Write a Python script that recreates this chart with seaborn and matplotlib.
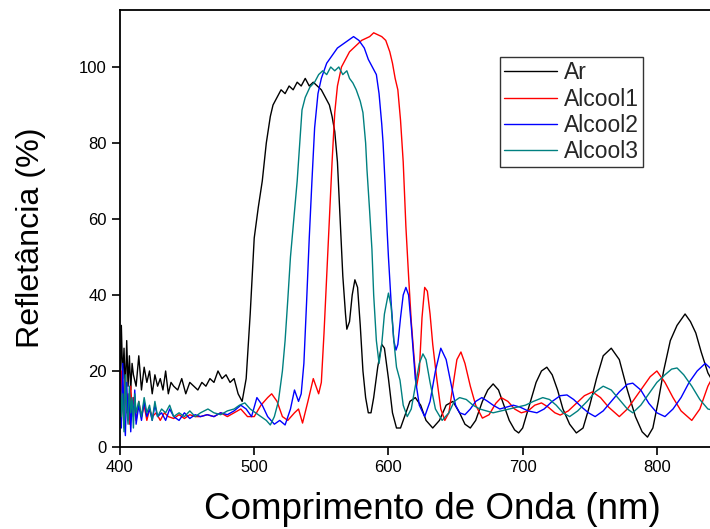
import numpy as np
import pandas as pd
import matplotlib
matplotlib.use("Agg")
import matplotlib.pyplot as plt
import seaborn as sns

# Reflectance spectra (wavelength in nm, reflectance in %)
ar_wl = [400, 401, 402, 403, 404, 405, 406, 407, 408, 409, 410, 412, 414, 416, 418, 420, 422, 424, 426, 428,
         430, 432, 434, 436, 438, 440, 443, 446, 449, 452, 455, 458, 461, 464, 467, 470, 473, 476, 479, 482,
         485, 488, 491, 494, 497, 500, 503, 506, 509, 512, 514, 517, 520, 523, 526, 529, 532, 535, 538, 541,
         544, 547, 550, 553, 556, 558, 560, 562, 564, 566, 568, 569, 571, 573, 575, 577, 579, 581, 583, 585,
         587, 589, 592, 595, 597, 600, 603, 606, 609, 612, 616, 620, 624, 628, 633, 638, 643, 648, 653, 657,
         661, 665, 670, 674, 678, 682, 686, 690, 694, 697, 700, 705, 710, 714, 718, 722, 726, 730, 735, 740,
         745, 750, 755, 760, 766, 772, 778, 784, 789, 793, 797, 801, 805, 810, 815, 821, 825, 829, 833, 838,
         842, 846, 850]
ar_r = [12, 32, 18, 26, 14, 28, 16, 24, 15, 22, 19, 16, 24, 15, 21, 17, 20, 14, 19, 16,
        18, 15, 20, 14, 17, 16, 15, 18, 14, 17, 16, 15, 17, 16, 18, 17, 20, 18, 19, 17,
        18, 14, 12, 18, 35, 55, 63, 70, 80, 87, 90, 92, 94, 93, 95, 94, 96, 95, 97, 95,
        96, 95, 94, 92, 90, 87, 83, 75, 60, 45, 35, 31, 33, 40, 44, 42, 32, 20, 13, 9,
        9, 13, 21, 27, 26, 18, 9, 5, 5, 8, 12, 13, 11, 7, 5, 7, 11, 12, 9, 6,
        5, 7, 12, 15, 16.6, 15, 11, 7, 4.5, 3.7, 5, 11, 17, 20, 21, 19, 15, 10, 6, 3.7,
        5, 11, 18, 24, 26, 23, 15, 8, 4, 2.6, 5, 12, 20, 28, 32, 35, 33, 30, 25, 19.5,
        17, 16, 15]

alc1_wl = [400, 401, 402, 403, 404, 405, 406, 407, 408, 409, 410, 412, 414, 416, 418, 420, 422, 424, 427, 430,
           433, 436, 440, 444, 448, 452, 456, 460, 465, 470, 475, 480, 485, 490, 495, 500, 505, 510, 513, 517,
           521, 525, 530, 533, 536, 540, 544, 546, 548, 550, 552, 554, 556, 558, 560, 562, 565, 568, 571, 574,
           577, 580, 583, 586, 589, 592, 595, 598, 601, 603, 605, 607, 609, 611, 613, 615, 617, 619, 621, 623,
           625, 627, 629, 631, 633, 636, 639, 642, 645, 648, 651, 654, 657, 661, 665, 670, 675, 680, 684, 689,
           694, 699, 704, 709, 714, 719, 724, 728, 734, 740, 746, 752, 758, 764, 772, 778, 784, 790, 795, 800,
           806, 812, 818, 826, 832, 838, 844, 850]
alc1_r = [8, 20, 12, 5, 18, 9, 14, 6, 16, 10, 13, 7, 12, 8, 11, 7, 10, 8, 9, 7,
          9, 8, 7.5, 8.5, 7.5, 8.5, 8, 8, 8.5, 8, 9, 8, 9, 10, 8, 8, 11, 13, 14, 12,
          8, 7, 9, 10, 6.3, 12, 18, 16, 14, 17, 30, 45, 60, 75, 88, 95, 100, 102, 104, 105,
          106, 107, 107.5, 108, 109, 108.5, 108, 107, 104, 101, 97, 94, 86, 75, 58, 45, 33, 24, 16, 20,
          34, 42, 41, 35, 27, 18, 10, 7, 9, 16, 23, 25, 22, 16, 11, 7.6, 8.5, 11.5, 13, 12,
          10, 9, 9.5, 11, 11.6, 10.5, 9, 8.4, 9.5, 11.5, 13.5, 14.5, 13, 10.5, 8, 10, 13, 16, 18.5, 20,
          17, 13, 9.5, 7, 10, 16, 20, 22]

alc2_wl = [400, 401, 402, 403, 404, 405, 406, 407, 408, 409, 410, 411, 412, 414, 416, 418, 420, 422, 424, 426,
           428, 431, 434, 437, 440, 444, 448, 452, 456, 460, 465, 470, 475, 480, 485, 490, 494, 498, 502, 506,
           510, 515, 519, 523, 527, 530, 533, 535, 537, 539, 541, 543, 545, 547.5, 550, 554, 558, 562, 566, 570,
           574, 578, 582, 585, 588, 591, 593, 595, 596, 597.4, 599, 600, 602, 604, 605.6, 607, 609, 611, 613, 615,
           617, 620, 623, 627, 631, 635, 639, 643, 647, 650, 653, 657, 661, 665, 669.6, 674, 678, 683, 688, 693,
           698, 704, 710.6, 716, 722, 728, 733, 738, 744, 749, 754, 760, 766, 772, 778, 782, 788, 794, 800, 806,
           812, 818, 824, 830, 836, 842, 848, 850]
alc2_r = [15, 5, 22, 8, 3, 17, 7, 14, 4, 12, 8, 15, 6, 11, 7, 12, 8, 10, 7, 11,
          8, 9, 7, 10, 8, 7, 9, 7.5, 8.5, 8, 8.5, 8, 9, 8.5, 9.5, 11, 10, 8, 13, 11,
          8, 6, 7, 5.8, 10, 15, 12, 14, 22, 38, 55, 70, 84, 93, 97, 101, 103, 105, 106, 107,
          108, 107, 105, 102, 100, 98, 93, 85, 80, 70, 57, 50, 38, 28, 25.5, 27, 34, 40, 42, 40,
          32, 18, 11, 8, 12, 20, 26, 23, 16, 11, 9, 8.5, 10, 12, 13, 12, 11, 10, 10.5, 11,
          10.5, 9.5, 9, 10, 12, 13.5, 13.7, 12.5, 10.5, 9, 8, 9.5, 12, 14.5, 16.5, 16.8, 15, 11.5, 9, 8,
          10, 13, 17, 20, 22, 20, 17, 16]

alc3_wl = [400, 401, 402, 403, 404, 405, 406, 407, 408, 409, 410, 411, 412, 414, 416, 418, 420, 422, 424, 426,
           428, 431, 434, 437, 440, 444, 448, 452, 456, 460, 465.5, 470, 475, 480, 485, 489, 493, 497, 501, 505,
           509, 512, 515, 518, 521, 523, 525, 527, 529, 532, 535.6, 538, 541.5, 545, 548, 551, 554, 557, 560, 563,
           566, 569, 571, 573.5, 576, 579, 581, 583, 584, 586, 587.7, 589, 591, 593, 595, 597, 600, 602, 604, 606,
           608.6, 611, 614, 617, 620, 623, 625.7, 628, 631, 635, 640, 645, 649, 653, 658, 663, 668, 673, 678, 684,
           690, 696, 702, 708, 715, 720, 725, 730, 735, 741, 748, 754, 760, 766, 772, 778, 782, 788, 794, 800,
           806, 811, 815, 820, 826, 832, 838, 844, 850]
alc3_r = [20, 8, 14, 4, 19, 10, 6, 16, 9, 13, 5, 14, 9, 12, 8, 13, 9, 11, 7, 12,
          8, 10, 9, 11, 8, 9, 8, 9.5, 8, 9, 10, 9, 8.5, 9.5, 10, 11, 11.6, 10, 9, 8,
          7, 5.8, 8, 12, 20, 28, 38.7, 50, 58, 70, 88.7, 92, 94.7, 96, 98, 99, 98, 100, 99, 100,
          98, 99, 97, 95.8, 94, 91, 88, 80, 73, 62, 52, 40, 28, 22, 27, 35, 40.5, 37, 28, 21,
          17.6, 11, 8, 10, 16, 22, 24.5, 23, 17, 10, 7, 9, 12, 13, 12.5, 11, 10, 9.5, 9, 9.5,
          10, 10.5, 11, 12, 13, 12.5, 11, 9, 8, 9.5, 12, 14.5, 16, 15, 12.5, 10, 9, 11, 14, 17,
          19, 20.5, 20.8, 19, 16, 12.5, 10, 9.5, 10]

series_names = ["Ar", "Alcool1", "Alcool2", "Alcool3"]
series_colors = ["#000000", "#ff0000", "#0000ff", "#008080"]
x_ticks = [400, 500, 600, 700, 800]
y_ticks = [0, 20, 40, 60, 80, 100]

frames = []
for name, wl, r in zip(series_names,
                       [ar_wl, alc1_wl, alc2_wl, alc3_wl],
                       [ar_r, alc1_r, alc2_r, alc3_r]):
    frames.append(pd.DataFrame({"wl": wl, "R": r, "amostra": name}))
df = pd.concat(frames, ignore_index=True)

sns.set_style("ticks")
plt.rcParams["font.family"] = ["Liberation Sans", "DejaVu Sans"]

fig = plt.figure(figsize=(7.10, 5.29), dpi=100)
ax = fig.add_axes([120 / 710, 82 / 529, 604 / 710, 437 / 529])

sns.lineplot(data=df, x="wl", y="R", hue="amostra", hue_order=series_names,
             palette=dict(zip(series_names, series_colors)), estimator=None,
             sort=False, linewidth=1.0, ax=ax, legend=False)

ax.set_xlim(400, 850)
ax.set_ylim(0, 115)
ax.set_xticks(x_ticks)
ax.set_yticks(y_ticks)
ax.tick_params(axis="both", direction="out", length=6, width=1.2,
               labelsize=12, color="black", labelcolor="black")
for side in ["left", "bottom", "top", "right"]:
    ax.spines[side].set_visible(True)
    ax.spines[side].set_color("black")
    ax.spines[side].set_linewidth(1.3)

ax.set_xlabel("Comprimento de Onda (nm)", fontsize=26.5, color="black")
ax.xaxis.set_label_coords(0.517, -0.143, transform=ax.transAxes)
ax.xaxis.label.set_verticalalignment("center")
ax.set_ylabel("Refletância (%)", fontsize=23.2, color="black")
ax.yaxis.set_label_coords(-0.147, 0.478, transform=ax.transAxes)
ax.yaxis.label.set_verticalalignment("center")

handles = [plt.Line2D([], [], color=c, lw=1.0) for c in series_colors]
leg = ax.legend(handles, series_names, loc="upper left",
                bbox_to_anchor=(0.629, 0.892), borderaxespad=0,
                fontsize=16.5, frameon=True, fancybox=False,
                handlelength=2.3, handletextpad=0.3, labelspacing=0.14,
                borderpad=0.18)
leg.get_frame().set_edgecolor("black")
leg.get_frame().set_linewidth(1.0)

fig.savefig("out.png", dpi=100, facecolor="white")
